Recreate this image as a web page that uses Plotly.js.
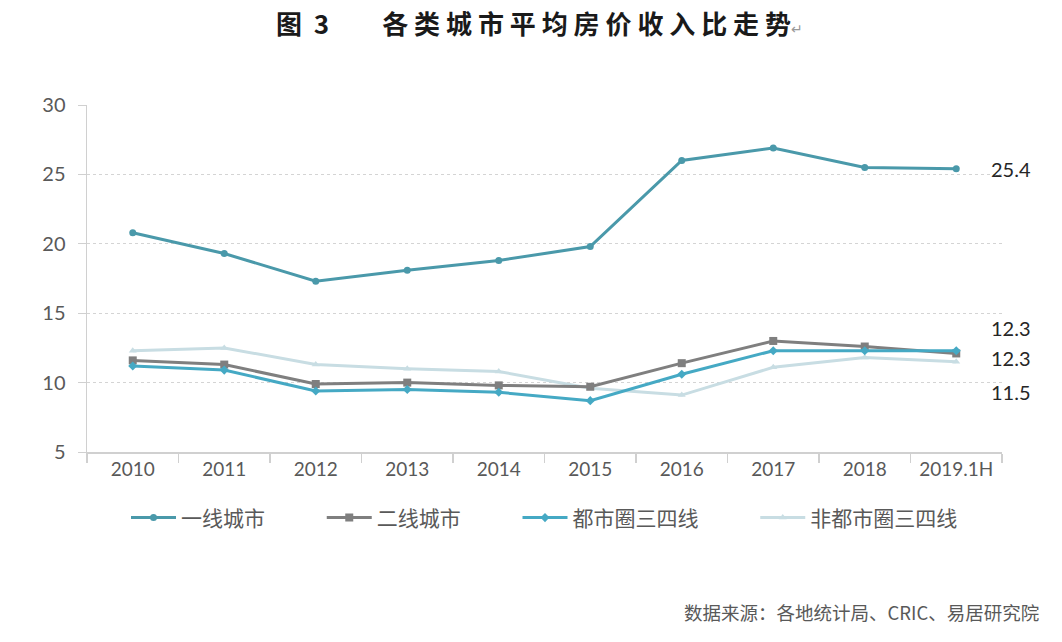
<!DOCTYPE html>
<html>
<head>
<meta charset="utf-8">
<script src="https://cdn.plot.ly/plotly-3.0.1.min.js"></script>
<style>html,body{margin:0;padding:0;background:#fff;}#chart{width:1062px;height:642px;}</style>
</head>
<body>
<div id="chart"></div>
<script>
const categories = ["2010","2011","2012","2013","2014","2015","2016","2017","2018","2019.1H"];
const seriesNames = ["一线城市","二线城市","都市圈三四线","非都市圈三四线"];
const tier1 = [20.8,19.3,17.3,18.1,18.8,19.8,26.0,26.9,25.5,25.4];
const tier2 = [11.6,11.3,9.9,10.0,9.8,9.7,11.4,13.0,12.6,12.1];
const metroTier34 = [11.2,10.9,9.4,9.5,9.3,8.7,10.6,12.3,12.3,12.3];
const nonMetroTier34 = [12.3,12.5,11.3,11.0,10.8,9.6,9.1,11.1,11.8,11.5];
const endLabels = ["25.4","12.3","12.3","11.5"];
const yTicks = [5,10,15,20,25,30];
const titleNum = ["图","3"];
const titleMain = "各类城市平均房价收入比走势";
const sourceText = "数据来源：各地统计局、CRIC、易居研究院";

const NB = "\u00A0";
const colors = ["#4A99AA","#7F7F7F","#45A9C4","#C8DDE3"];
const symbols = ["circle","square","diamond","triangle-up"];
const data = [tier1,tier2,metroTier34,nonMetroTier34];
const order = [3,1,2,0];
const traces = order.map(i => ({
  type:"scatter", mode:"lines+markers", name:seriesNames[i] + NB.repeat(i===3?0:11),
  x:categories, y:data[i],
  line:{color:colors[i], width:3},
  marker:{color:colors[i], symbol:symbols[i], size:i===1?8:7},
  legendrank:i
}));

const yShifts = [0,25,-7,-30];
const endAnn = data.map((d,i)=>({
  x:categories[categories.length-1], y:d[d.length-1], xref:"x", yref:"y",
  text:endLabels[i], showarrow:false, xanchor:"left", xshift:33, yshift:yShifts[i],
  font:{family:"Lato, 'Open Sans', sans-serif", size:20, color:"#262626"}
}));

const spaced = s => s.split("").join(NB);
const titleText = "<b>" + titleNum.join(NB + NB) + NB.repeat(9) + spaced(titleMain) + "</b>" +
  "<span style='font-size:14px;color:#999'>↵</span>";

const layout = {
  width:1062, height:642,
  paper_bgcolor:"#fff", plot_bgcolor:"#fff",
  margin:{l:87, r:60, t:105, b:190},
  title:{
    text:titleText,
    font:{family:"'Noto Sans CJK SC', sans-serif", size:26, color:"#1a1a1a"},
    x:0.508, xanchor:"center", y:0.961, yanchor:"middle"
  },
  xaxis:{
    type:"category", range:[-0.5,9.5], showgrid:false,
    showline:true, linecolor:"#D0D0D0", linewidth:1.5,
    ticks:"outside", tickson:"boundaries", ticklen:9, tickcolor:"#D0D0D0", tickwidth:1.5,
    tickfont:{family:"Lato, 'Open Sans', sans-serif", size:19, color:"#595959"},
    fixedrange:true
  },
  yaxis:{
    range:[5,30], tickvals:yTicks, ticktext:yTicks.map(String),
    showgrid:true, gridcolor:"#D4D4D4", griddash:"dot", gridwidth:1,
    showline:true, linecolor:"#D0D0D0", linewidth:1.5,
    ticks:"outside", ticklen:8, tickcolor:"#D0D0D0",
    ticklabelstandoff:8,
    zeroline:false,
    tickfont:{family:"Lato, 'Open Sans', sans-serif", size:20, color:"#595959"},
    fixedrange:true
  },
  showlegend:true,
  legend:{
    orientation:"h", x:0.5, xanchor:"center", y:-0.19, yanchor:"middle",
    font:{family:"'Noto Sans CJK SC', sans-serif", size:21, color:"#595959"},
    itemwidth:45, traceorder:"normal"
  },
  annotations:[
    ...endAnn,
    {xref:"paper", yref:"paper", x:1.043, y:-0.46, xanchor:"right", yanchor:"middle",
     text:sourceText, showarrow:false,
     font:{family:"'Noto Sans CJK SC', sans-serif", size:18.5, color:"#595959"}}
  ]
};

Plotly.newPlot("chart", traces, layout, {displayModeBar:false, staticPlot:true});
</script>
</body>
</html>
